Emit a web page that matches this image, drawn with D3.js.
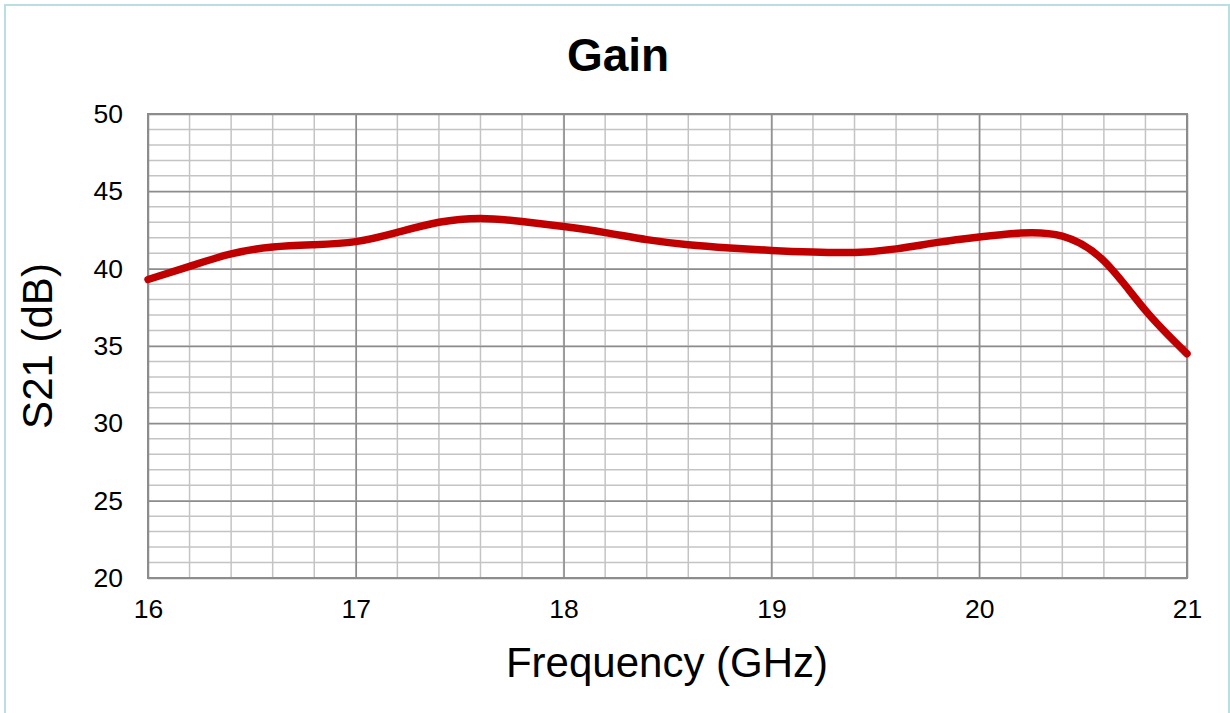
<!DOCTYPE html>
<html>
<head>
<meta charset="utf-8">
<script src="https://cdn.jsdelivr.net/npm/d3@7"></script>
<style>
  body { margin: 0; background: #fff; }
  text { font-family: "Liberation Sans", Arial, sans-serif; fill: #000; }
</style>
</head>
<body>
<div id="chart"></div>
<script>
// frequency (GHz) and gain S21 (dB)
var freq = [16, 16.2, 16.4, 16.6, 16.8, 17, 17.2, 17.4, 17.6, 17.8, 18, 18.2, 18.4, 18.6, 18.8, 19, 19.2, 19.4, 19.6, 19.8, 20, 20.2, 20.4, 20.6, 20.8, 21];
var gain = [39.3, 40.15, 40.95, 41.4, 41.55, 41.75, 42.35, 43.0, 43.25, 43.05, 42.72, 42.33, 41.88, 41.55, 41.34, 41.18, 41.07, 41.05, 41.28, 41.7, 42.05, 42.3, 42.1, 40.5, 37.3, 34.5];
var xTicks = [16, 17, 18, 19, 20, 21];
var yTicks = [20, 25, 30, 35, 40, 45, 50];

var W = 1230, H = 713;
var margin = { top: 114, bottom: 135, left: 148, right: 43 };
var width = W - margin.left - margin.right;
var height = H - margin.top - margin.bottom;

var svg = d3.select("#chart").append("svg").attr("width", W).attr("height", H);

// outer frame
svg.append("rect").attr("x", 5).attr("y", 5).attr("width", 1224).attr("height", 730)
  .attr("fill", "none").attr("stroke", "#b9dfe2").attr("stroke-width", 2);

var g = svg.append("g").attr("transform", "translate(" + margin.left + "," + margin.top + ")");

var x = d3.scaleLinear().domain([16, 21]).range([0, width]);
var y = d3.scaleLinear().domain([20, 50]).range([height, 0]);

// minor grid
g.selectAll(".vminor").data(d3.range(16, 21.001, 0.2)).join("line")
  .attr("x1", function (d) { return x(d); }).attr("x2", function (d) { return x(d); })
  .attr("y1", 0).attr("y2", height)
  .attr("stroke", "#c4c4c4").attr("stroke-width", 1.5);
g.selectAll(".hminor").data(d3.range(20, 50.001, 1)).join("line")
  .attr("y1", function (d) { return y(d); }).attr("y2", function (d) { return y(d); })
  .attr("x1", 0).attr("x2", width)
  .attr("stroke", "#c4c4c4").attr("stroke-width", 1.5);

// major grid + tick labels
g.append("g").attr("transform", "translate(0," + height + ")")
  .call(d3.axisBottom(x).tickValues(xTicks).tickSize(-height).tickFormat(d3.format("d")).tickPadding(21))
  .call(function (a) {
    a.select(".domain").remove();
    a.selectAll("line").attr("stroke", "#8c8c8c").attr("stroke-width", 1.5);
    a.selectAll("text").attr("font-size", 26.5).style("font-family", "Liberation Sans, Arial, sans-serif");
  });
g.append("g")
  .call(d3.axisLeft(y).tickValues(yTicks).tickSize(-width).tickPadding(25))
  .call(function (a) {
    a.select(".domain").remove();
    a.selectAll("line").attr("stroke", "#8c8c8c").attr("stroke-width", 1.5);
    a.selectAll("text").attr("font-size", 26.5).style("font-family", "Liberation Sans, Arial, sans-serif");
  });

g.append("rect").attr("width", width).attr("height", height)
  .attr("fill", "none").attr("stroke", "#8c8c8c").attr("stroke-width", 2);

var line = d3.line()
  .x(function (d, i) { return x(freq[i]); })
  .y(function (d) { return y(d); })
  .curve(d3.curveNatural);

g.append("path").datum(gain).attr("d", line)
  .attr("fill", "none").attr("stroke", "#c00000").attr("stroke-width", 7.5)
  .attr("stroke-linecap", "round");

svg.append("text").attr("x", 618).attr("y", 71).attr("text-anchor", "middle")
  .attr("font-size", 46).attr("font-weight", "bold").text("Gain");
svg.append("text").attr("x", 667).attr("y", 677).attr("text-anchor", "middle")
  .attr("font-size", 42).text("Frequency (GHz)");
svg.append("text").attr("transform", "translate(52," + (margin.top + height / 2) + ") rotate(-90)")
  .attr("text-anchor", "middle").attr("font-size", 42).text("S21 (dB)");
</script>
</body>
</html>
